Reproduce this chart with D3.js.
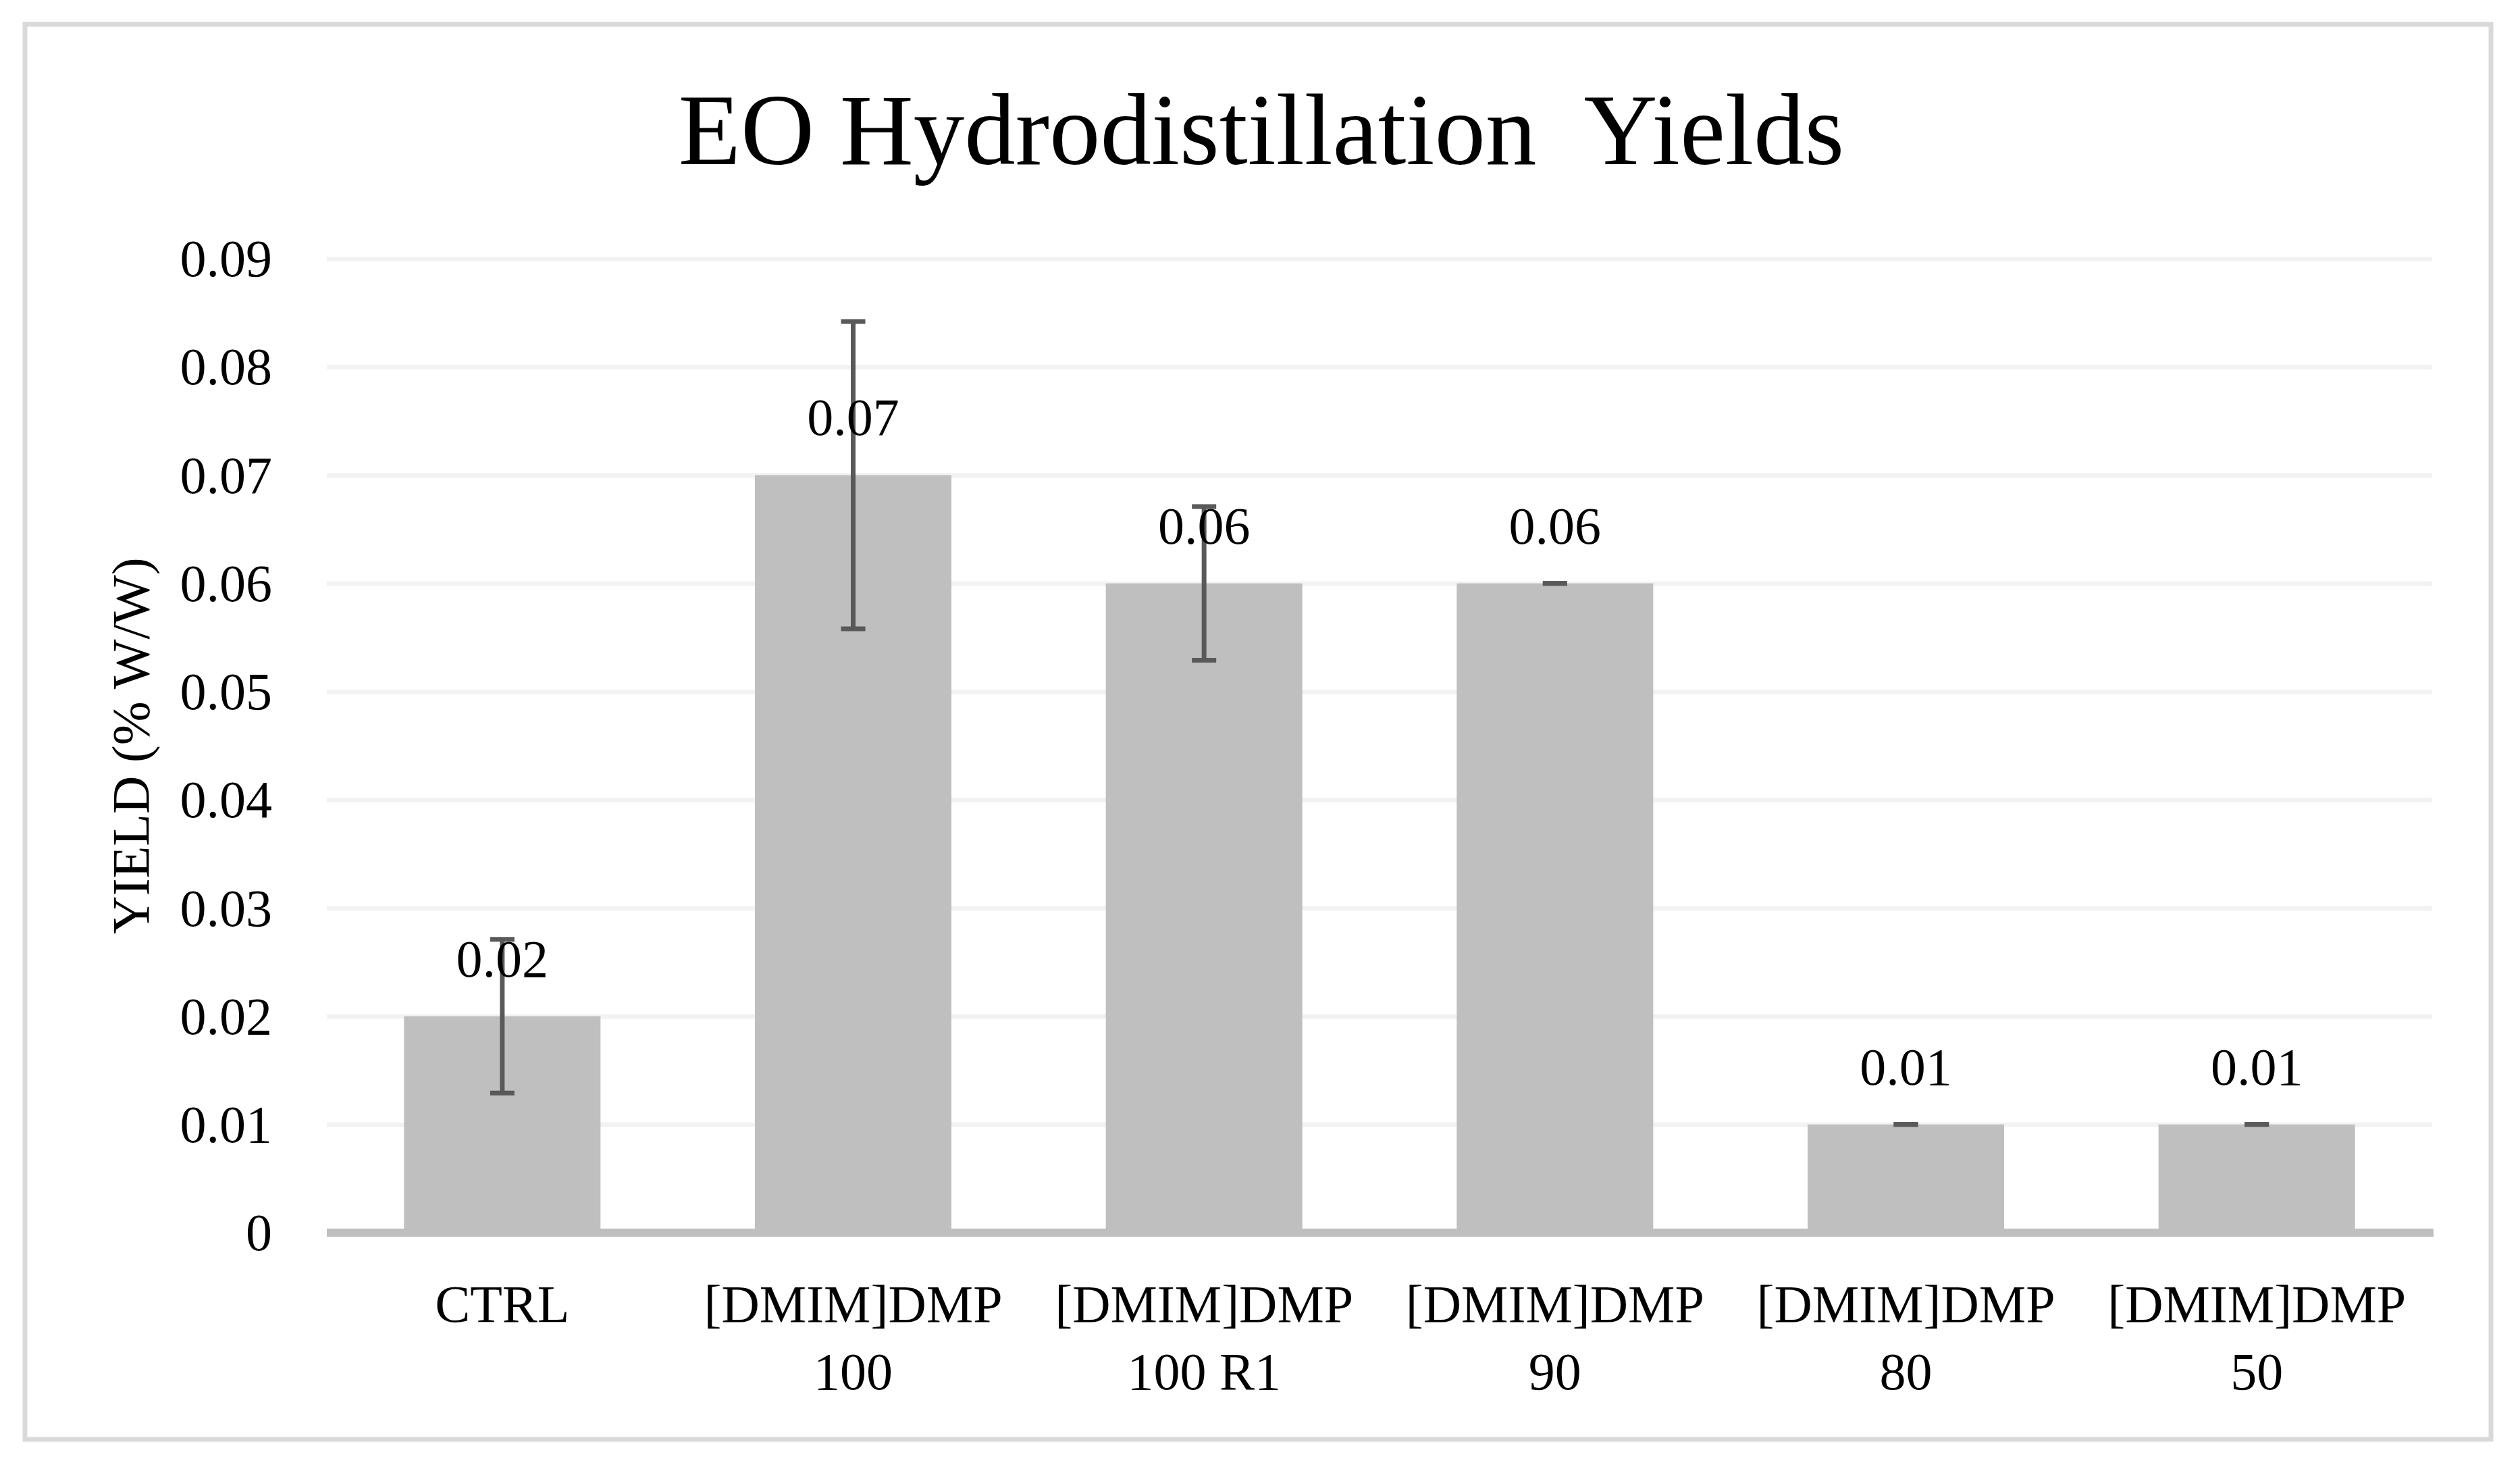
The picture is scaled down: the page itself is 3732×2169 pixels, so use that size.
<!DOCTYPE html>
<html>
<head>
<meta charset="utf-8">
<script src="https://cdn.jsdelivr.net/npm/d3@7"></script>
<style>
  html, body { margin: 0; padding: 0; background: #ffffff; }
  svg { display: block; }
</style>
</head>
<body>
<svg id="chart"></svg>
<script>
// ---- data ----
const categories = ["CTRL", "[DMIM]DMP 100", "[DMIM]DMP 100 R1", "[DMIM]DMP 90", "[DMIM]DMP 80", "[DMIM]DMP 50"];
const yields = [0.02, 0.07, 0.06, 0.06, 0.01, 0.01];
const errors = [0.0071, 0.0142, 0.0071, 0, 0, 0];
const valueLabels = ["0.02", "0.07", "0.06", "0.06", "0.01", "0.01"];
const yTickValues = [0, 0.01, 0.02, 0.03, 0.04, 0.05, 0.06, 0.07, 0.08, 0.09];
const yTickLabels = ["0", "0.01", "0.02", "0.03", "0.04", "0.05", "0.06", "0.07", "0.08", "0.09"];
const titleText = "EO Hydrodistillation  Yields";
const yAxisTitle = "YIELD (% W/W)";

// ---- layout ----
const W = 3732, H = 2169;
const plot = { left: 484, right: 3602, top: 383, bottom: 1825 };
const FONT = "'Liberation Serif', 'Times New Roman', serif";
const FS = 78;

const svg = d3.select("#chart").attr("width", W).attr("height", H)
  .attr("viewBox", `0 0 ${W} ${H}`);

svg.append("rect").attr("x", 0).attr("y", 0).attr("width", W).attr("height", H).attr("fill", "#fff");
// outer chart border
svg.append("rect")
  .attr("x", 37).attr("y", 36).attr("width", 3652).attr("height", 2095)
  .attr("fill", "none").attr("stroke", "#d9d9d9").attr("stroke-width", 7);

const x = d3.scaleBand().domain(categories).range([plot.left, plot.right])
  .paddingInner(0.44).paddingOuter(0.22);
const y = d3.scaleLinear().domain([0, 0.09]).range([plot.bottom, plot.top]);

// gridlines + y tick labels
const yAxis = d3.axisLeft(y).tickValues(yTickValues)
  .tickFormat((d, i) => yTickLabels[i])
  .tickSize(-(plot.right - plot.left)).tickPadding(81);
const gy = svg.append("g").attr("transform", `translate(${plot.left},0)`).call(yAxis);
gy.select(".domain").remove();
gy.selectAll(".tick line").attr("stroke", "#f2f2f2").attr("stroke-width", 7);
gy.selectAll(".tick text")
  .attr("font-family", FONT).attr("font-size", FS).attr("fill", "#000")
  .attr("dy", "0.33em");

// bars
svg.append("g").selectAll("rect").data(categories).join("rect")
  .attr("x", d => x(d))
  .attr("y", (d, i) => y(yields[i]))
  .attr("width", x.bandwidth())
  .attr("height", (d, i) => y(0) - y(yields[i]))
  .attr("fill", "#bfbfbf");

// x axis
const xAxis = d3.axisBottom(x).tickSize(0).tickSizeOuter(0);
const gx = svg.append("g").attr("transform", `translate(0,${plot.bottom})`).call(xAxis);
gx.select(".domain").attr("stroke", "#bfbfbf").attr("stroke-width", 12)
  .attr("d", `M${plot.left},0H${plot.right + 2}`);
gx.selectAll(".tick text").each(function(d) {
  const t = d3.select(this);
  const idx = d.indexOf(" ");
  const lines = idx < 0 ? [d] : [d.slice(0, idx), d.slice(idx + 1)];
  t.text(null).attr("y", 132).attr("dy", null)
    .attr("font-family", FONT).attr("font-size", FS).attr("fill", "#000");
  lines.forEach((ln, k) => {
    t.append("tspan").attr("x", 0).attr("dy", k === 0 ? 0 : 100).text(ln);
  });
});

// error bars
const eb = svg.append("g").attr("stroke", "#595959").attr("stroke-width", 7);
categories.forEach((c, i) => {
  const cx = x(c) + x.bandwidth() / 2;
  const lo = y(yields[i] - errors[i]), hi = y(yields[i] + errors[i]);
  if (errors[i] > 0) {
    eb.append("line").attr("x1", cx).attr("x2", cx).attr("y1", lo).attr("y2", hi);
  }
  eb.append("line").attr("x1", cx - 18).attr("x2", cx + 18).attr("y1", lo).attr("y2", lo);
  eb.append("line").attr("x1", cx - 18).attr("x2", cx + 18).attr("y1", hi).attr("y2", hi);
});

// data labels
svg.append("g").selectAll("text").data(categories).join("text")
  .attr("x", d => x(d) + x.bandwidth() / 2)
  .attr("y", (d, i) => y(yields[i]) - 59)
  .attr("text-anchor", "middle")
  .attr("font-family", FONT).attr("font-size", FS).attr("fill", "#000")
  .text((d, i) => valueLabels[i]);

// title
svg.append("text")
  .attr("x", 1868).attr("y", 243)
  .attr("text-anchor", "middle")
  .attr("font-family", FONT).attr("font-size", 151).attr("fill", "#000")
  .style("white-space", "pre")
  .text(titleText);

// y axis title
svg.append("text")
  .attr("transform", `translate(220,${(plot.top + plot.bottom) / 2}) rotate(-90)`)
  .attr("text-anchor", "middle")
  .attr("font-family", FONT).attr("font-size", FS).attr("fill", "#000")
  .text(yAxisTitle);
</script>
</body>
</html>
